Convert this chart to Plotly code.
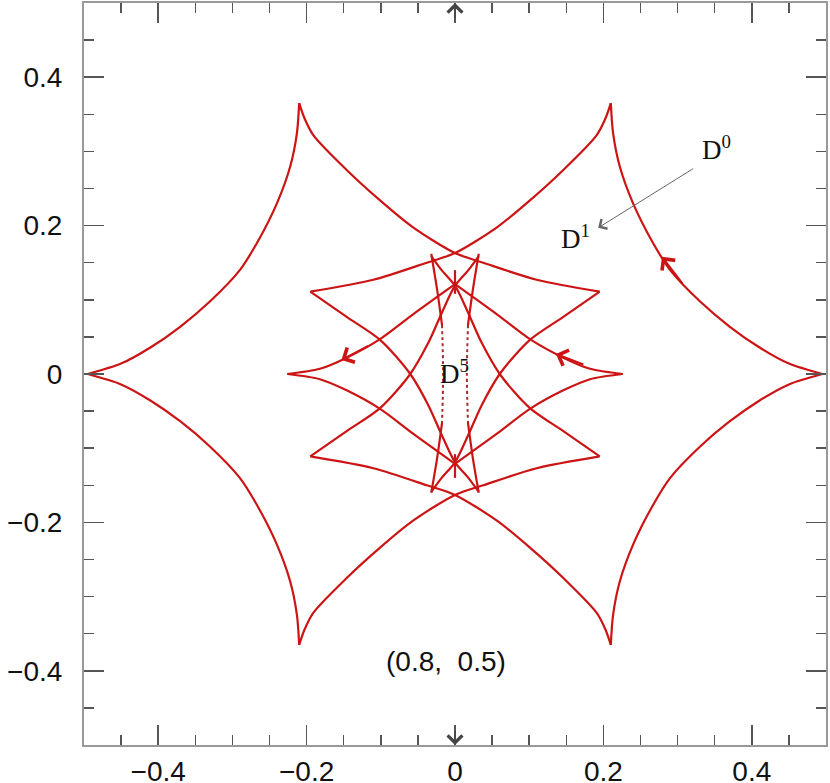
import plotly.graph_objects as go

# ---------------- data (data coordinates) ----------------
# outer caustic arcs (cusp to cusp)
arc_lt_x = [-0.495, -0.45, -0.41, -0.37, -0.33, -0.29, -0.265, -0.24, -0.222, -0.213, -0.210]
arc_lt_y = [0.0, 0.014, 0.036, 0.064, 0.098, 0.14, 0.18, 0.23, 0.28, 0.325, 0.365]
arc_rt_x = [0.495, 0.45, 0.41, 0.37, 0.33, 0.29, 0.265, 0.24, 0.222, 0.213, 0.210]
arc_rt_y = [0.0, 0.014, 0.036, 0.064, 0.098, 0.14, 0.18, 0.23, 0.28, 0.325, 0.365]
arc_lb_x = [-0.495, -0.45, -0.41, -0.37, -0.33, -0.29, -0.265, -0.24, -0.222, -0.213, -0.210]
arc_lb_y = [0.0, -0.014, -0.036, -0.064, -0.098, -0.14, -0.18, -0.23, -0.28, -0.325, -0.365]
arc_rb_x = [0.495, 0.45, 0.41, 0.37, 0.33, 0.29, 0.265, 0.24, 0.222, 0.213, 0.210]
arc_rb_y = [0.0, -0.014, -0.036, -0.064, -0.098, -0.14, -0.18, -0.23, -0.28, -0.325, -0.365]

# long crossing lines: outer cusp -> opposite inner cusp
line_a_x = [-0.210, -0.203, -0.191, -0.146, -0.101, -0.057, 0.0, 0.038, 0.11, 0.195]
line_a_y = [0.365, 0.345, 0.322, 0.275, 0.234, 0.198, 0.163, 0.150, 0.127, 0.111]
line_b_x = [0.210, 0.203, 0.191, 0.146, 0.101, 0.057, 0.0, -0.038, -0.11, -0.195]
line_b_y = [0.365, 0.345, 0.322, 0.275, 0.234, 0.198, 0.163, 0.150, 0.127, 0.111]
line_c_x = [-0.210, -0.203, -0.191, -0.146, -0.101, -0.057, 0.0, 0.038, 0.11, 0.195]
line_c_y = [-0.365, -0.345, -0.322, -0.275, -0.234, -0.198, -0.163, -0.150, -0.127, -0.111]
line_d_x = [0.210, 0.203, 0.191, 0.146, 0.101, 0.057, 0.0, -0.038, -0.11, -0.195]
line_d_y = [-0.365, -0.345, -0.322, -0.275, -0.234, -0.198, -0.163, -0.150, -0.127, -0.111]

# inner diagonal lines: inner corner cusp -> small cusp on the far side
line_e_x = [-0.195, -0.146, -0.101, -0.061, -0.036, -0.018, 0.0, 0.018, 0.032]
line_e_y = [0.111, 0.077, 0.046, 0.001, -0.042, -0.082, -0.119, -0.140, -0.159]
line_f_x = [0.195, 0.146, 0.101, 0.061, 0.036, 0.018, 0.0, -0.018, -0.032]
line_f_y = [0.111, 0.077, 0.046, 0.001, -0.042, -0.082, -0.119, -0.140, -0.159]
line_g_x = [-0.195, -0.146, -0.101, -0.061, -0.036, -0.018, 0.0, 0.018, 0.032]
line_g_y = [-0.111, -0.077, -0.046, -0.001, 0.042, 0.082, 0.119, 0.140, 0.159]
line_h_x = [0.195, 0.146, 0.101, 0.061, 0.036, 0.018, 0.0, -0.018, -0.032]
line_h_y = [-0.111, -0.077, -0.046, -0.001, 0.042, 0.082, 0.119, 0.140, 0.159]

# lines from the middle cusps to the centre cusps
mid_ul_x = [-0.226, -0.182, -0.146, -0.101, -0.057, 0.0]
mid_ul_y = [0.0, 0.007, 0.022, 0.047, 0.080, 0.121]
mid_ur_x = [0.226, 0.182, 0.146, 0.101, 0.057, 0.0]
mid_ur_y = [0.0, 0.007, 0.022, 0.047, 0.080, 0.121]
mid_ll_x = [-0.226, -0.182, -0.146, -0.101, -0.057, 0.0]
mid_ll_y = [0.0, -0.007, -0.022, -0.047, -0.080, -0.121]
mid_lr_x = [0.226, 0.182, 0.146, 0.101, 0.057, 0.0]
mid_lr_y = [0.0, -0.007, -0.022, -0.047, -0.080, -0.121]

# centre spikes
spike_t_x = [0.0, 0.0]
spike_t_y = [0.140, 0.108]
spike_b_x = [0.0, 0.0]
spike_b_y = [-0.140, -0.108]

# steep lines between small cusps (solid ends, dotted middle)
steep_l_top_x = [-0.032, -0.024, -0.0175]
steep_l_top_y = [0.162, 0.113, 0.066]
steep_l_dot_x = [-0.0175, -0.016, -0.0175]
steep_l_dot_y = [0.066, 0.0, -0.066]
steep_l_bot_x = [-0.0175, -0.024, -0.032]
steep_l_bot_y = [-0.066, -0.113, -0.160]
steep_r_top_x = [0.032, 0.024, 0.0175]
steep_r_top_y = [0.162, 0.113, 0.066]
steep_r_dot_x = [0.0175, 0.016, 0.0175]
steep_r_dot_y = [0.066, 0.0, -0.066]
steep_r_bot_x = [0.0175, 0.024, 0.032]
steep_r_bot_y = [-0.066, -0.113, -0.160]

# direction arrows on curves: (tip x, tip y, tail x, tail y)
curve_arrow_tip_x = [-0.153, 0.136, 0.279]
curve_arrow_tip_y = [0.019, 0.027, 0.158]
curve_arrow_tail_x = [-0.115, 0.175, 0.308]
curve_arrow_tail_y = [0.039, 0.012, 0.120]

# labels
label_texts = ["D<sup>0</sup>", "D<sup>1</sup>", "D<sup>5</sup>"]
label_x = [0.352, 0.163, -0.001]
label_y = [0.305, 0.185, 0.003]
pointer_tip = [0.193, 0.197]
pointer_tail = [0.323, 0.278]
param_text = "(0.8,  0.5)"
param_pos = [-0.012, -0.388]

tick_vals = [-0.4, -0.2, 0, 0.2, 0.4]
tick_text = ["\u22120.4", "\u22120.2", "0", "0.2", "0.4"]

RED = "#cc1414"
DOT_RED = "#a52a2a"

fig = go.Figure()

solid_curves = [
    (arc_lt_x, arc_lt_y), (arc_rt_x, arc_rt_y), (arc_lb_x, arc_lb_y), (arc_rb_x, arc_rb_y),
    (line_a_x, line_a_y), (line_b_x, line_b_y), (line_c_x, line_c_y), (line_d_x, line_d_y),
    (line_e_x, line_e_y), (line_f_x, line_f_y), (line_g_x, line_g_y), (line_h_x, line_h_y),
    (mid_ul_x, mid_ul_y), (mid_ur_x, mid_ur_y), (mid_ll_x, mid_ll_y), (mid_lr_x, mid_lr_y),
    (spike_t_x, spike_t_y), (spike_b_x, spike_b_y),
    (steep_l_top_x, steep_l_top_y), (steep_l_bot_x, steep_l_bot_y),
    (steep_r_top_x, steep_r_top_y), (steep_r_bot_x, steep_r_bot_y),
]
for cx, cy in solid_curves:
    fig.add_trace(go.Scatter(x=cx, y=cy, mode="lines",
                             line=dict(color=RED, width=2.2, shape="spline", smoothing=0.8),
                             hoverinfo="skip"))

for cx, cy in [(steep_l_dot_x, steep_l_dot_y), (steep_r_dot_x, steep_r_dot_y)]:
    fig.add_trace(go.Scatter(x=cx, y=cy, mode="lines",
                             line=dict(color=DOT_RED, width=2, dash="dot", shape="spline"),
                             hoverinfo="skip"))

annotations = []
for tx, ty, sx, sy in zip(curve_arrow_tip_x, curve_arrow_tip_y, curve_arrow_tail_x, curve_arrow_tail_y):
    annotations.append(dict(x=tx, y=ty, ax=sx, ay=sy, xref="x", yref="y", axref="x", ayref="y",
                            showarrow=True, arrowhead=4, arrowsize=1.6, arrowwidth=2,
                            arrowcolor=RED, text=""))

# pointer D0 -> D1
annotations.append(dict(x=pointer_tip[0], y=pointer_tip[1], ax=pointer_tail[0], ay=pointer_tail[1],
                        xref="x", yref="y", axref="x", ayref="y", showarrow=True,
                        arrowhead=4, arrowsize=2.2, arrowwidth=1, arrowcolor="#666", text=""))

# chevrons on the x=0 ticks at top and bottom
annotations.append(dict(x=0, y=0.5, ax=0, ay=0.478, xref="x", yref="y", axref="x", ayref="y",
                        showarrow=True, arrowhead=4, arrowsize=2.2, arrowwidth=1.3,
                        arrowcolor="#444", text=""))
annotations.append(dict(x=0, y=-0.5, ax=0, ay=-0.478, xref="x", yref="y", axref="x", ayref="y",
                        showarrow=True, arrowhead=4, arrowsize=2.2, arrowwidth=1.3,
                        arrowcolor="#444", text=""))

for t, lx, ly in zip(label_texts, label_x, label_y):
    annotations.append(dict(x=lx, y=ly, xref="x", yref="y", text=t, showarrow=False,
                            font=dict(family="Liberation Serif", size=27, color="#111")))

annotations.append(dict(x=param_pos[0], y=param_pos[1], xref="x", yref="y", text=param_text,
                        showarrow=False, font=dict(family="Liberation Sans", size=28, color="#111")))

axis_common = dict(
    range=[-0.5, 0.5], tickvals=tick_vals, ticktext=tick_text,
    ticks="inside", ticklen=20, tickwidth=1.5, tickcolor="#555",
    minor=dict(ticks="inside", ticklen=10, tickwidth=1.5, tickcolor="#555", dtick=0.05, tick0=0,
               showgrid=False),
    showgrid=False, zeroline=False, showline=True, linecolor="#999", linewidth=2,
    mirror="allticks", tickfont=dict(family="Liberation Sans", size=28, color="#111"),
    fixedrange=True, automargin=False,
)

fig.update_layout(
    width=830, height=783,
    margin=dict(l=84, r=4, t=3, b=38, pad=0),
    plot_bgcolor="white", paper_bgcolor="white",
    showlegend=False,
    xaxis=dict(**axis_common, ticklabelstandoff=0),
    yaxis=dict(**axis_common, ticklabelstandoff=14),
    annotations=annotations,
)

fig.write_html("out.html", config={"displayModeBar": False, "staticPlot": True},
               post_script="document.body.style.margin='0px';document.body.style.overflow='hidden';")
